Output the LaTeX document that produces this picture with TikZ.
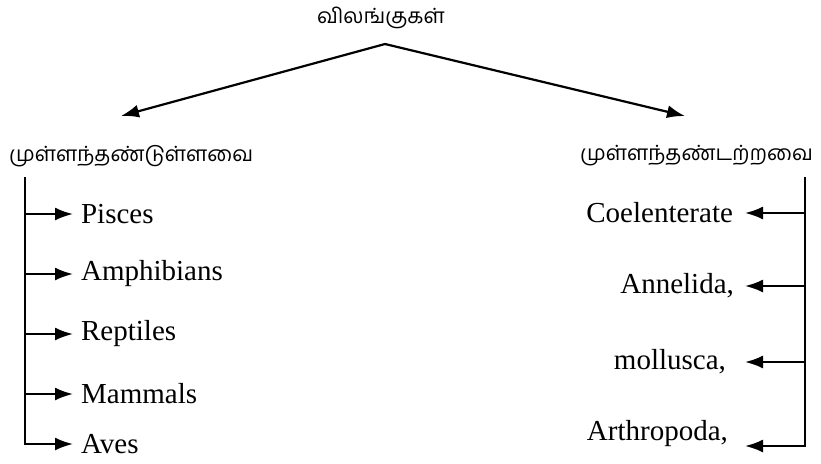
\documentclass[tikz,border=0pt]{standalone}
\usepackage{fontspec}
\setmainfont{Liberation Serif}
\newfontfamily\tamilfont[Script=Tamil]{Hind Madurai}
\usetikzlibrary{arrows.meta, calc}

\begin{document}
\begin{tikzpicture}[x=0.5pt, y=-0.5pt, >={Latex[length=9pt,width=6.5pt]}, line width=1.1pt,
		tam/.style={font=\tamilfont\fontsize{10.5}{13}\selectfont, inner sep=0pt},
		item/.style={font=\fontsize{14.5}{17}\selectfont, inner sep=0pt}]
		% frame of the page
		\useasboundingbox (0,0) rectangle (821,463);
		% top level: animals
		\node[tam] (animals) at (381,18) {விலங்குகள்};
		\coordinate (apex) at (385,44);
		\coordinate (ltip) at (121,116);
		\coordinate (rtip) at (685,116);
		\draw[->] (apex) -- (ltip);
		\draw[->] (apex) -- (rtip);
		\node[tam, anchor=west] (vert) at (8,156) {முள்ளந்தண்டுள்ளவை};
		\node[tam, anchor=east] (invert) at (814,156) {முள்ளந்தண்டற்றவை};
		% vertebrates
		\coordinate (ltop) at (25,177);
		\coordinate (ltipx) at (73,0);
		\foreach \name/\txt/\y in {pisces/Pisces/214, amphi/Amphibians/274, rept/Reptiles/334, mamm/Mammals/394, aves/Aves/444}{
			\node[item, anchor=west] (\name) at (80,\y) {\txt};
		}
		\foreach \name in {pisces, amphi, rept, mamm}{
			\draw[->] (ltop |- \name.west) -- (ltipx |- \name.west);
		}
		\draw[->] (ltop) |- (ltipx |- aves.west);
		% invertebrates
		\coordinate (rtop) at (805,177);
		\coordinate (rbot) at (805,446);
		\coordinate (rtipx) at (745,0);
		\node[item, anchor=east] (coel) at (734,213) {Coelenterate};
		\node[item, anchor=east] (anne) at (735,286) {Annelida,};
		\node[item, anchor=east] (moll) at (727,362) {mollusca,};
		\node[item, anchor=east] (arth) at (729,434) {Arthropoda,};
		\foreach \name in {coel, anne, moll}{
			\draw[->] (rtop |- \name.east) -- (rtipx |- \name.east);
		}
		\draw[->] (rtop) |- (rtipx |- rbot);
	\end{tikzpicture}
\end{document}
